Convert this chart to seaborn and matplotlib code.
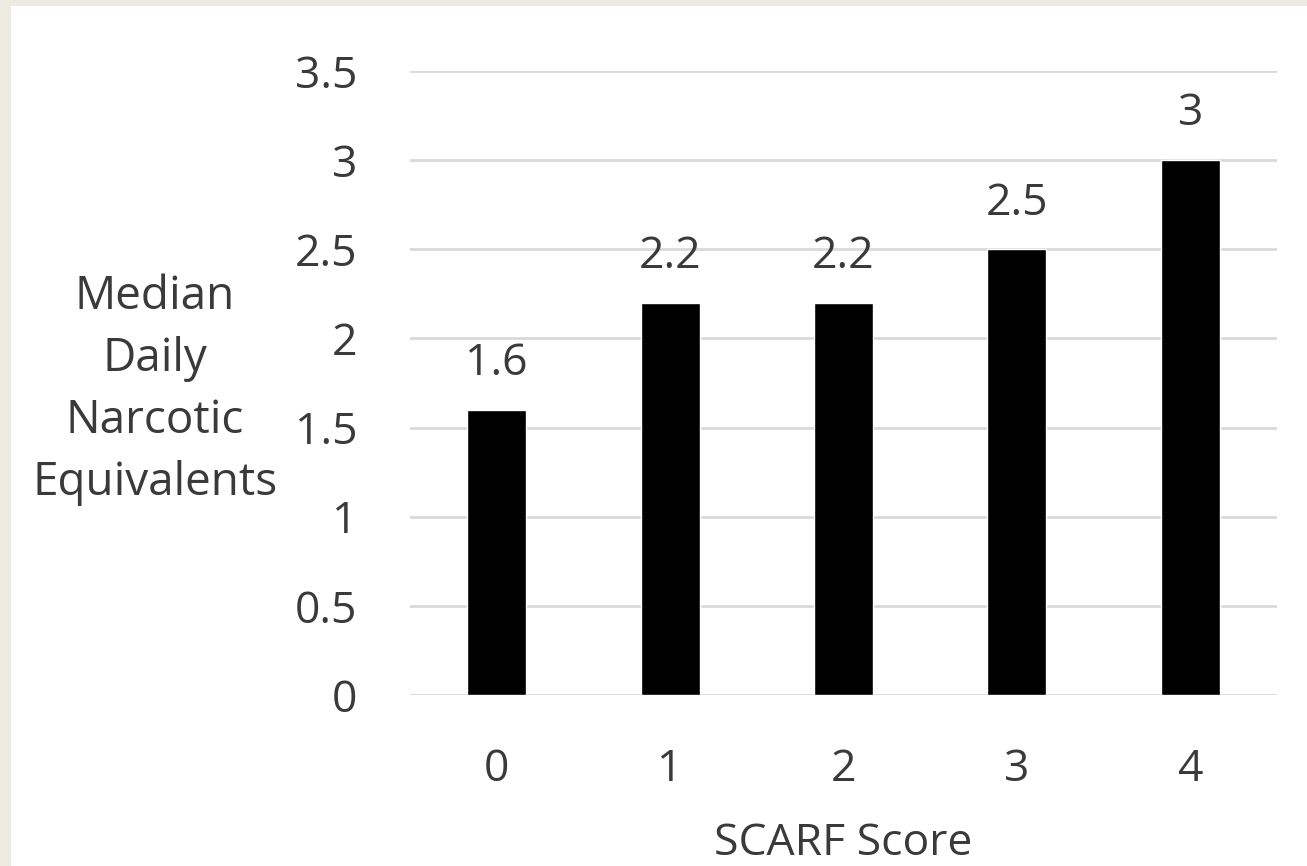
import numpy as np
import pandas as pd
import seaborn as sns
import matplotlib.pyplot as plt
from matplotlib.patches import Rectangle


# data
scores = ["0", "1", "2", "3", "4"]
medians = [1.6, 2.2, 2.2, 2.5, 3.0]
bar_labels = ["1.6", "2.2", "2.2", "2.5", "3"]
y_ticks = [0, 0.5, 1, 1.5, 2, 2.5, 3, 3.5]
y_tick_labels = ["0", "0.5", "1", "1.5", "2", "2.5", "3", "3.5"]

df = pd.DataFrame({"score": scores, "median": medians})

sns.set_style("white")
plt.rcParams['font.family'] = ['Open Sans', 'DejaVu Sans']
text_color = "#3a3a3a"

fig = plt.figure(figsize=(13.07, 8.66), dpi=100, facecolor="#edeae2")
# white panel inside beige border
fig.patches.append(Rectangle((11 / 1307, 0), 1 - 11 / 1307, 860 / 866,
                             transform=fig.transFigure, facecolor="white",
                             edgecolor="none", zorder=-10))

ax = fig.add_axes([0.3137, 0.1975, 0.6634, 0.7206])
ax.set_facecolor("none")
sns.barplot(x="score", y="median", data=df, color="black", width=0.34,
            saturation=1, ax=ax, zorder=3)

ax.set_ylim(0, 3.5)
ax.set_yticks(y_ticks)
ax.set_yticklabels(y_tick_labels)
ax.yaxis.grid(True, color="#d9d9d9", linewidth=2, zorder=0)
ax.set_axisbelow(True)
for s in ax.spines.values():
    s.set_visible(False)

ax.tick_params(axis="y", length=0, pad=38, labelsize=32, labelcolor=text_color)
ax.tick_params(axis="x", length=0, pad=38, labelsize=32, labelcolor=text_color)

ax.bar_label(ax.containers[0], labels=bar_labels, padding=17, fontsize=32,
             color=text_color)

ax.set_xlabel("")
ax.set_ylabel("")
fig.text(155 / 1307, 1 - 390 / 866, "Median\nDaily\nNarcotic\nEquivalents",
         ha="center", va="center", fontsize=33, color=text_color,
         linespacing=1.45)
fig.text(843 / 1307, 1 - 855 / 866, "SCARF Score", ha="center", va="baseline",
         fontsize=32, color=text_color)

fig.savefig("out.png", dpi=100, facecolor=fig.get_facecolor())
